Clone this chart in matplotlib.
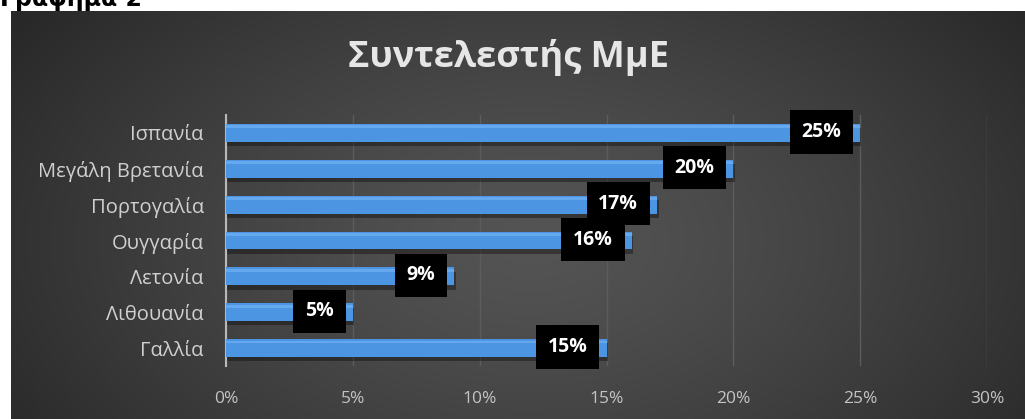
import matplotlib.pyplot as plt
import numpy as np

# data
countries = ['Ισπανία', 'Μεγάλη Βρετανία', 'Πορτογαλία', 'Ουγγαρία',
             'Λετονία', 'Λιθουανία', 'Γαλλία']
values = [25, 20, 17, 16, 9, 5, 15]
xticks = [0, 5, 10, 15, 20, 25, 30]
xticklabels = ['0%', '5%', '10%', '15%', '20%', '25%', '30%']

plt.rcParams['font.family'] = ['Open Sans', 'DejaVu Sans']

fig = plt.figure(figsize=(10.25, 4.19), dpi=100)
fig.patch.set_facecolor('white')

# dark radial-gradient panel behind the chart
bg = fig.add_axes([11 / 1025, 0, 1014 / 1025, 408 / 419], zorder=0)
W, H = 1014, 408
xx, yy = np.meshgrid(np.arange(W), np.arange(H))
r = np.sqrt(((xx - 520) / 620) ** 2 + ((yy - 230) / 380) ** 2)
r = np.clip(r, 0, 1)
c0, c1 = 0.33, 0.16
shade = c0 - (c0 - c1) * r ** 1.3
bg.imshow(np.dstack([shade] * 3), aspect='auto', extent=[0, 1, 0, 1])
bg.axis('off')

# caption above the panel (cut off at the top, as in the source)
fig.text(0.0, 1 - 6 / 419, 'Γράφημα 2', fontsize=17, fontweight='bold',
         color='black', ha='left', va='baseline', family=['DejaVu Sans'])

ax = fig.add_axes([226 / 1025, 1 - 366 / 419, 761 / 1025, 251 / 419], zorder=1)
ax.patch.set_alpha(0)

y = np.arange(len(countries))
# soft shadow under each bar
ax.barh(y + 0.12, values, height=0.5, color='black', alpha=0.35, zorder=2,
        left=0.05)
ax.barh(y, values, height=0.5, color='#4c95e2', zorder=3)
ax.barh(y - 0.17, values, height=0.08, color='#66a8ee', zorder=3)

for yi, v in zip(y, values):
    ax.annotate(f'{v}%', xy=(v, yi), xytext=(-19, 1), textcoords='offset pixels',
                ha='right', va='center', color='white', fontsize=14,
                fontweight='bold', zorder=5,
                bbox=dict(boxstyle='square,pad=0.6', facecolor='black',
                          edgecolor='none'))

ax.set_xlim(0, 30)
ax.set_ylim(len(countries) - 0.5, -0.5)
ax.set_xticks(xticks)
ax.set_xticklabels(xticklabels)
ax.set_yticks(y)
ax.set_yticklabels(countries)
ax.tick_params(axis='x', length=0, pad=18, labelsize=12.5, colors='#c4c4c4')
ax.tick_params(axis='y', length=0, pad=16, labelsize=14.5, colors='#d0d0d0')

ax.grid(axis='x', color='#5c5c5c', linewidth=1, zorder=1)
ax.set_axisbelow(True)
for s in ['top', 'right', 'bottom']:
    ax.spines[s].set_visible(False)
ax.spines['left'].set_color('#b8b8b8')
ax.spines['left'].set_linewidth(1.5)

fig.text(508 / 1025, 1 - 58 / 419, 'Συντελεστής ΜμΕ', fontsize=26,
         color='#e6e6e6', ha='center', va='center', fontweight='bold')

fig.savefig('out.png', dpi=100)
